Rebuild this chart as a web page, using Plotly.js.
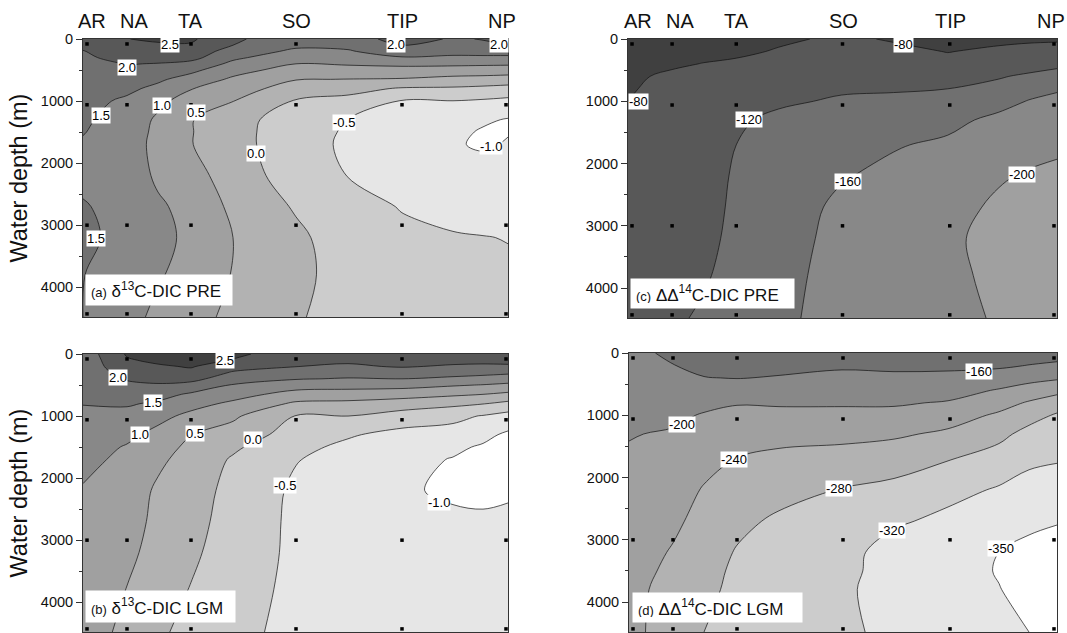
<!DOCTYPE html>
<html>
<head>
<meta charset="utf-8">
<script src="https://cdn.plot.ly/plotly-3.0.1.min.js"></script>
<style>body{margin:0;background:#fff}</style>
</head>
<body>
<div id="chart" style="width:1067px;height:633px"></div>
<script>
// section position along the transect, same for all panels
const gridXLeft = [0, 44, 75, 108, 150, 213, 265, 319, 370, 400, 425];
const gridXRight = [0, 44, 75, 108, 150, 213, 265, 319, 370, 400, 428];
const stationXLeft = [4, 44, 108, 213, 319, 423];
const stationXRight = [4, 44, 108, 214, 321, 425];
const stationDepth = [80, 1060, 3000, 4430];
const regionNames = ['AR', 'NA', 'TA', 'SO', 'TIP', 'NP'];
const regionXLeft = [9, 51, 107, 213, 319, 419];
const regionXRight = [10, 52, 108, 215, 322, 422];

const depthA = [0, 100, 200, 300, 400, 500, 650, 800, 1000, 1300, 1500, 1700, 2200, 2700, 3200, 3800, 4480];
const zA = [
  [2.25, 2.49, 2.58, 2.58, 2.06, 1.78, 1.75, 2.2, 1.95, 2.02, 2.1],
  [2.1, 2.38, 2.43, 2.45, 2.0, 1.6, 1.6, 2.02, 1.8, 1.92, 2.0],
  [1.98, 2.27, 2.28, 2.3, 1.78, 1.4, 1.46, 1.72, 1.64, 1.66, 1.7],
  [1.93, 2.14, 2.18, 2.16, 1.59, 1.2, 1.24, 1.47, 1.42, 1.42, 1.4],
  [1.82, 2.02, 1.98, 1.85, 1.39, 1.0, 1.05, 1.1, 1.1, 1.08, 1.07],
  [1.78, 1.91, 1.82, 1.62, 1.18, 0.8, 0.82, 0.85, 0.8, 0.78, 0.75],
  [1.74, 1.75, 1.58, 1.3, 0.92, 0.52, 0.49, 0.46, 0.35, 0.32, 0.28],
  [1.7, 1.6, 1.38, 1.02, 0.74, 0.26, 0.16, -0.05, -0.07, -0.12, -0.18],
  [1.65, 1.42, 1.12, 0.78, 0.51, -0.04, -0.15, -0.53, -0.51, -0.56, -0.62],
  [1.57, 1.3, 0.92, 0.53, 0.15, -0.2, -0.51, -0.62, -0.8, -0.93, -1.03],
  [1.52, 1.27, 0.88, 0.525, 0.14, -0.23, -0.57, -0.66, -0.88, -1.05, -1.02],
  [1.45, 1.25, 0.85, 0.52, 0.15, -0.25, -0.6, -0.7, -0.96, -1.05, -0.97],
  [1.38, 1.27, 0.92, 0.72, 0.22, -0.2, -0.51, -0.65, -0.8, -0.82, -0.85],
  [1.54, 1.32, 1.07, 0.85, 0.4, -0.05, -0.36, -0.52, -0.62, -0.65, -0.68],
  [1.6, 1.35, 1.13, 0.9, 0.5, 0.1, -0.25, -0.42, -0.47, -0.49, -0.51],
  [1.51, 1.3, 1.06, 0.78, 0.48, 0.13, -0.2, -0.36, -0.4, -0.42, -0.45],
  [1.5, 1.22, 0.85, 0.62, 0.42, 0.05, -0.2, -0.32, -0.36, -0.38, -0.4]
];
const labelTextA = ['2.5', '2.0', '2.0', '2.0', '1.5', '1.0', '0.5', '0.0', '-0.5', '-1.0', '1.5'];
const labelXA = [87, 44, 313, 416, 18, 79, 113, 173, 261, 408, 13];
const labelYA = [81, 454, 81, 81, 1227, 1065, 1189, 1843, 1340, 1740, 3216];

const depthB = [0, 100, 200, 300, 400, 500, 650, 800, 1000, 1300, 1500, 1700, 2200, 2700, 3200, 3800, 4480];
const zB = [
  [1.7, 2.55, 2.72, 2.72, 2.58, 2.3, 2.25, 2.4, 2.35, 2.35, 2.3],
  [1.68, 2.45, 2.6, 2.63, 2.48, 2.17, 2.1, 2.25, 2.17, 2.15, 2.1],
  [1.7, 2.32, 2.44, 2.54, 2.2, 2.01, 1.92, 2.05, 1.93, 1.9, 1.95],
  [1.68, 2.18, 2.27, 2.37, 1.95, 1.75, 1.68, 1.68, 1.65, 1.62, 1.58],
  [1.66, 2.04, 2.12, 2.15, 1.72, 1.53, 1.47, 1.5, 1.42, 1.35, 1.25],
  [1.62, 1.91, 1.96, 1.84, 1.47, 1.24, 1.2, 1.18, 1.05, 0.98, 0.9],
  [1.56, 1.72, 1.67, 1.43, 1.2, 0.8, 0.76, 0.7, 0.58, 0.5, 0.39],
  [1.51, 1.55, 1.43, 1.18, 0.9, 0.42, 0.38, 0.26, 0.12, 0.02, -0.13],
  [1.43, 1.35, 1.15, 0.87, 0.58, -0.02, 0, -0.22, -0.38, -0.53, -0.68],
  [1.3, 1.12, 0.85, 0.51, 0.3, -0.22, -0.45, -0.65, -0.68, -0.88, -1.08],
  [1.22, 0.96, 0.72, 0.38, 0.08, -0.38, -0.6, -0.78, -0.92, -1.05, -1.12],
  [1.14, 0.88, 0.6, 0.3, -0.05, -0.48, -0.66, -0.88, -1.02, -1.12, -1.15],
  [0.96, 0.78, 0.42, 0.22, -0.15, -0.58, -0.72, -0.92, -1.1, -1.15, -1.08],
  [0.85, 0.7, 0.38, 0.15, -0.18, -0.6, -0.72, -0.85, -0.88, -0.9, -0.88],
  [0.78, 0.62, 0.31, 0.08, -0.22, -0.6, -0.7, -0.78, -0.78, -0.8, -0.8],
  [0.72, 0.49, 0.2, -0.02, -0.28, -0.62, -0.68, -0.73, -0.74, -0.76, -0.77],
  [0.7, 0.4, 0.1, -0.18, -0.35, -0.65, -0.68, -0.7, -0.72, -0.74, -0.75]
];
const labelTextB = ['2.5', '2.0', '1.5', '1.0', '0.5', '0.0', '-0.5', '-1.0'];
const labelXB = [142, 35, 70, 57, 112, 170, 202, 356];
const labelYB = [97, 382, 780, 1290, 1280, 1376, 2113, 2392];

const depthC = [0, 200, 400, 600, 800, 1000, 1300, 1700, 2200, 2700, 3200, 3800, 4480];
const zC = [
  [-68, -62, -62, -65, -74, -86, -77, -72, -73, -76, -76],
  [-70, -68, -70, -73, -83, -93, -88, -79, -86, -88, -92],
  [-72, -75, -81, -86, -93, -100, -96, -90, -98, -104, -112],
  [-74, -86, -90, -92, -100, -108, -106, -105, -117, -126, -133],
  [-77, -90, -95, -97, -107, -116, -117, -120, -131, -145, -157],
  [-80, -93, -98, -102, -115, -124, -127, -134, -146, -162, -167],
  [-86, -95, -102, -115, -127, -133, -141, -149, -170, -176, -180],
  [-92, -97, -104, -120, -133, -141, -157, -167, -186, -190, -194],
  [-96, -99, -106, -124, -137, -157, -170, -178, -197, -203, -207],
  [-98, -101, -108, -126, -140, -168, -176, -190, -205, -210, -214],
  [-100, -103, -111, -128, -143, -172, -179, -196, -207, -212, -217],
  [-102, -107, -116, -132, -147, -175, -180, -195, -205, -213, -218],
  [-104, -114, -125, -138, -150, -178, -183, -194, -202, -214, -219]
];
const labelTextC = ['-80', '-80', '-120', '-160', '-200'];
const labelXC = [275, 10, 121, 219, 393];
const labelYC = [92, 1005, 1297, 2292, 2173];

const depthD = [0, 200, 400, 600, 800, 1000, 1300, 1700, 2200, 2700, 3200, 3500, 3800, 4480];
const zD = [
  [-175, -150, -148, -145, -146, -142, -142, -140, -140, -142, -146],
  [-178, -161, -152, -151, -152, -155, -153, -152, -154, -161, -166],
  [-181, -168, -161, -159, -162, -169, -167, -170, -178, -188, -195],
  [-184, -176, -172, -177, -180, -182, -181, -185, -203, -216, -228],
  [-187, -184, -190, -198, -196, -196, -196, -203, -225, -244, -262],
  [-191, -192, -203, -208, -209, -209, -210, -222, -246, -266, -284],
  [-198, -204, -215, -222, -229, -230, -234, -247, -270, -292, -298],
  [-205, -213, -227, -241, -248, -254, -263, -278, -296, -313, -317],
  [-211, -222, -243, -256, -266, -282, -290, -308, -324, -333, -338],
  [-216, -233, -252, -270, -287, -295, -314, -330, -344, -352, -358],
  [-222, -243, -260, -283, -293, -305, -338, -345, -360, -370, -374],
  [-226, -248, -265, -288, -297, -310, -335, -346, -362, -372, -377],
  [-230, -252, -270, -290, -300, -315, -332, -345, -359, -370, -377],
  [-231, -255, -280, -300, -305, -316, -325, -340, -350, -360, -367]
];
const labelTextD = ['-160', '-200', '-240', '-280', '-320', '-350'];
const labelXD = [350, 53, 105, 210, 263, 372];
const labelYD = [303, 1146, 1703, 2178, 2849, 3135];

// band colours, lowest z band first
const greysIsotope = ['#ffffff', '#e6e6e6', '#cccccc', '#b2b2b2', '#a0a0a0', '#888888', '#707070', '#585858', '#404040'];
const greysC = ['#a0a0a0', '#888888', '#707070', '#585858', '#404040'];
const greysD = ['#ffffff', '#e6e6e6', '#cccccc', '#b2b2b2', '#a0a0a0', '#888888', '#707070'];

function bandScale(cols) {
  return cols.map((c, i) => [i / (cols.length - 1), c]);
}

const W = 1067, H = 633;
const traces = [], annotations = [];
const layout = {
  width: W, height: H,
  margin: {l: 0, r: 0, t: 0, b: 0},
  paper_bgcolor: '#fff', plot_bgcolor: '#fff',
  showlegend: false,
  font: {family: 'Liberation Sans, Arial, sans-serif', color: '#111'},
  annotations: annotations
};

function addPanel(n, opts) {
  const sfx = n === 1 ? '' : String(n);
  const xa = 'x' + sfx, ya = 'y' + sfx;
  traces.push({
    type: 'contour', x: opts.gridX, y: opts.depth, z: opts.z,
    xaxis: xa, yaxis: ya,
    autocontour: false,
    contours: {start: opts.start, end: opts.end, size: opts.size, coloring: 'fill', showlines: true},
    colorscale: bandScale(opts.greys),
    showscale: false,
    line: {color: '#111', width: 0.7, smoothing: 1},
    hoverinfo: 'skip'
  });
  const dotX = [], dotY = [];
  opts.stations.forEach(sx => stationDepth.forEach(d => { dotX.push(sx); dotY.push(d); }));
  traces.push({
    type: 'scatter', mode: 'markers', x: dotX, y: dotY, xaxis: xa, yaxis: ya,
    marker: {symbol: 'square', size: 3.5, color: '#000'}, hoverinfo: 'skip'
  });
  layout['xaxis' + sfx] = {
    domain: [opts.box[0] / W, opts.box[1] / W],
    range: [0, opts.gridX[opts.gridX.length - 1]],
    showticklabels: false, ticks: '', showgrid: false, zeroline: false,
    showline: true, mirror: true, linecolor: '#333', linewidth: 1, anchor: ya
  };
  layout['yaxis' + sfx] = {
    domain: [1 - opts.box[3] / H, 1 - opts.box[2] / H],
    range: [4480, 0],
    tickmode: 'linear', tick0: 0, dtick: 1000,
    ticks: 'outside', ticklen: 6, tickcolor: '#333',
    tickfont: {size: 14.5, color: '#111'},
    minor: {dtick: 500, ticks: 'outside', ticklen: 3, tickcolor: '#333', showgrid: false},
    showgrid: false, zeroline: false,
    showline: true, mirror: true, linecolor: '#333', linewidth: 1, anchor: xa
  };
  if (opts.ytitle) {
    layout['yaxis' + sfx].title = {text: 'Water depth (m)', font: {size: 23.5, color: '#111'}, standoff: 6};
  }
  opts.labelText.forEach((t, i) => annotations.push({
    xref: xa, yref: ya, x: opts.labelX[i], y: opts.labelY[i], text: t,
    showarrow: false, bgcolor: '#fff', borderpad: 0, font: {size: 13, color: '#000'}
  }));
  if (opts.regionX) {
    regionNames.forEach((t, i) => annotations.push({
      xref: xa, yref: ya + ' domain', x: opts.regionX[i], y: 1, yanchor: 'bottom', yshift: 5,
      text: t, showarrow: false, font: {size: 20, color: '#111'}
    }));
  }
  annotations.push({
    xref: xa, yref: ya, x: opts.tag.x, y: opts.tag.y, xanchor: 'left', yanchor: 'bottom',
    width: opts.tag.w, height: opts.tag.h, align: 'left', showarrow: false,
    bgcolor: '#fff', borderpad: 5,
    font: {size: 17, color: '#111'},
    text: opts.tag.text
  });
}

addPanel(1, {
  box: [83, 508, 39, 317], gridX: gridXLeft, stations: stationXLeft, depth: depthA, z: zA,
  start: -1, end: 2.5, size: 0.5, greys: greysIsotope, ytitle: true, regionX: regionXLeft,
  labelText: labelTextA, labelX: labelXA, labelY: labelYA,
  tag: {x: 2, y: 4306, w: 136, h: 20, text: '<span style="font-size:13px">(a)</span> δ<sup>13</sup>C-DIC PRE'}
});
addPanel(2, {
  box: [83, 508, 354, 632], gridX: gridXLeft, stations: stationXLeft, depth: depthB, z: zB,
  start: -1, end: 2.5, size: 0.5, greys: greysIsotope, ytitle: true,
  labelText: labelTextB, labelX: labelXB, labelY: labelYB,
  tag: {x: 2, y: 4336, w: 139, h: 21, text: '<span style="font-size:13px">(b)</span> δ<sup>13</sup>C-DIC LGM'}
});
addPanel(3, {
  box: [628, 1057, 39, 318], gridX: gridXRight, stations: stationXRight, depth: depthC, z: zC,
  start: -200, end: -80, size: 40, greys: greysC, regionX: regionXRight,
  labelText: labelTextC, labelX: labelXC, labelY: labelYC,
  tag: {x: 2, y: 4330, w: 153, h: 19, text: '<span style="font-size:13px">(c)</span> ΔΔ<sup>14</sup>C-DIC PRE'}
});
addPanel(4, {
  box: [629, 1057, 353, 632], gridX: gridXRight, stations: stationXRight, depth: depthD, z: zD,
  start: -360, end: -160, size: 40, greys: greysD,
  labelText: labelTextD, labelX: labelXD, labelY: labelYD,
  tag: {x: 3, y: 4340, w: 159, h: 19, text: '<span style="font-size:13px">(d)</span> ΔΔ<sup>14</sup>C-DIC LGM'}
});

Plotly.newPlot('chart', traces, layout, {displayModeBar: false, responsive: false});
</script>
</body>
</html>
